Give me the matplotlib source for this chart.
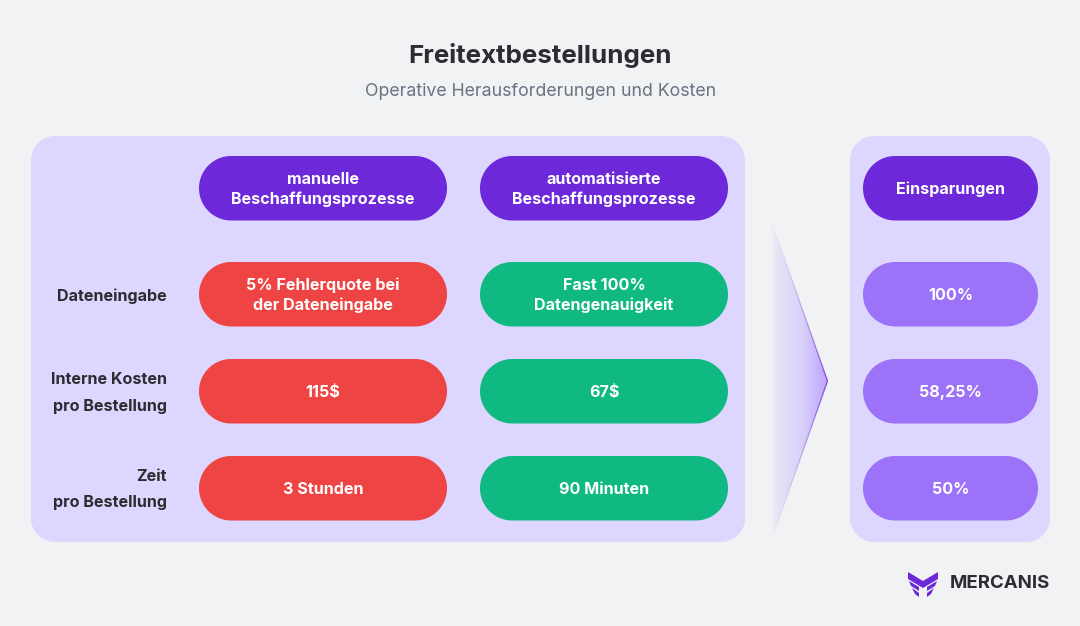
import numpy as np
import matplotlib
matplotlib.use('Agg')
import matplotlib.pyplot as plt
from matplotlib.patches import Polygon
from matplotlib.collections import LineCollection
from matplotlib.colors import LinearSegmentedColormap

plt.rcParams['font.family'] = ['Inter', 'DejaVu Sans']

title = 'Freitextbestellungen'
subtitle = 'Operative Herausforderungen und Kosten'
headers = ['manuelle\nBeschaffungsprozesse', 'automatisierte\nBeschaffungsprozesse', 'Einsparungen']
row_labels = ['Dateneingabe', 'Interne Kosten\npro Bestellung', 'Zeit\npro Bestellung']
manual = ['5% Fehlerquote bei\nder Dateneingabe', '115$', '3 Stunden']
automated = ['Fast 100%\nDatengenauigkeit', '67$', '90 Minuten']
savings = ['100%', '58,25%', '50%']

BG = '#f1f2f4'
PANEL = '#ddd6fe'
PURPLE = '#6d28d9'
RED = '#ef4444'
GREEN = '#10b981'
VIOLET = '#9b72f8'
DARK = '#2b2d31'

fig = plt.figure(figsize=(10.8, 6.26), dpi=100, facecolor=BG)
ax = fig.add_axes([0, 0, 1, 1])
ax.set_xlim(0, 1080)
ax.set_ylim(626, 0)
ax.axis('off')


def box(x0, x1, y0, y1, r, color):
    # true circular corners, FancyBboxPatch ones come out too square
    t = np.linspace(0, np.pi/2, 30)
    xs = np.concatenate([x1 - r + r*np.sin(t), x1 - r + r*np.cos(t),
                         x0 + r - r*np.sin(t), x0 + r - r*np.cos(t)])
    ys = np.concatenate([y0 + r - r*np.cos(t), y1 - r + r*np.sin(t),
                         y1 - r + r*np.cos(t), y0 + r - r*np.sin(t)])
    ax.add_patch(Polygon(np.column_stack([xs, ys]), closed=True, fc=color, ec='none', zorder=2))


def pill(x0, x1, y0, text, color):
    box(x0, x1, y0, y0 + 64.5, 32.2, color)
    ax.text((x0 + x1)/2, y0 + 33.3, text, color='white', fontsize=11.6, fontweight='bold',
            ha='center', va='center', linespacing=1.36, zorder=3)


ax.text(540, 55.5, title, fontsize=18.7, fontweight='bold', color=DARK, ha='center', va='center')
ax.text(540.7, 91.5, subtitle, fontsize=12.75, color='#6b7280', ha='center', va='center')

box(31, 745, 136, 542, 24, PANEL)
box(850, 1050, 136, 542, 24, PANEL)

col1 = (199, 447)
col2 = (480, 728)
col3 = (863, 1038)
rows_y = [262, 359, 456]

pill(*col1, 156, headers[0], PURPLE)
pill(*col2, 156, headers[1], PURPLE)
pill(*col3, 156, headers[2], PURPLE)

for i, y in enumerate(rows_y):
    pill(*col1, y, manual[i], RED)
    pill(*col2, y, automated[i], GREEN)
    pill(*col3, y, savings[i], VIOLET)
    ax.text(167, y + 33.8, row_labels[i], color=DARK, fontsize=11.6, fontweight='bold',
            ha='right', va='center', linespacing=1.95, zorder=3)

# arrow with gradient fill
tip = (827.5, 381)
top = (771, 220)
bottom = (771, 542)
cmap = LinearSegmentedColormap.from_list(
    'arrow', [(0, BG), (0.12, '#e6e3f5'), (0.55, '#d9d0f9'), (1, '#bca3fb')])
grad = np.linspace(0, 1, 256).reshape(1, -1)
im = ax.imshow(grad, extent=(771, tip[0], bottom[1], top[1]), cmap=cmap, aspect='auto', zorder=1)
clip = Polygon([top, tip, bottom], closed=True, transform=ax.transData, fc='none', ec='none')
ax.add_patch(clip)
im.set_clip_path(clip)
ax.set_xlim(0, 1080)
ax.set_ylim(626, 0)

# edge fades out towards both ends
for end in (top, bottom):
    s = np.linspace(0, 1, 41)
    xs = end[0] + (tip[0] - end[0])*s
    ys = end[1] + (tip[1] - end[1])*s
    pts = np.column_stack([xs, ys])
    segs = np.stack([pts[:-1], pts[1:]], axis=1)
    colors = [(0.43, 0.16, 0.85, a**1.6*0.85) for a in s[:-1]]
    ax.add_collection(LineCollection(segs, colors=colors, linewidths=0.9, zorder=2))

# logo
logo = [
    [(908, 572), (923, 581), (938, 572), (938, 579), (923, 588), (908, 579)],
    [(909, 581), (919, 587), (919, 591), (911, 586)],
    [(937, 581), (927, 587), (927, 591), (935, 586)],
    [(912, 588), (919, 593), (919, 597), (915, 594)],
    [(934, 588), (927, 593), (927, 597), (931, 594)],
]
for pts in logo:
    ax.add_patch(Polygon(pts, closed=True, fc=PURPLE, ec='none', zorder=3))
ax.text(949.5, 584, 'MERCANIS', fontsize=13.4, fontweight='bold', color=DARK, ha='left', va='center')

fig.savefig('out.png', dpi=100, facecolor=BG)
